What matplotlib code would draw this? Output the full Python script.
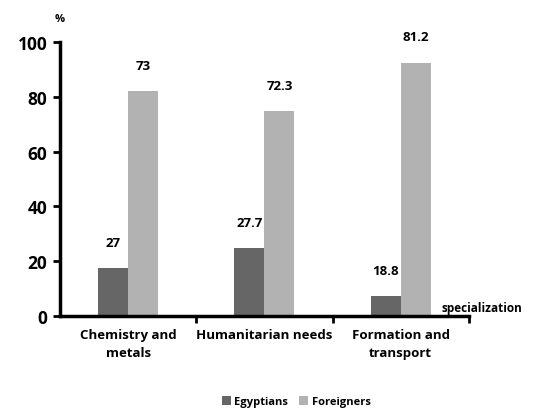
import numpy as np
import matplotlib.pyplot as plt

plt.rcParams['font.family'] = ['Open Sans', 'DejaVu Sans']
plt.rcParams['font.weight'] = 'bold'

categories = ['Chemistry and\nmetals', 'Humanitarian needs', 'Formation and\ntransport']
egyptians = [17.5, 24.8, 7.2]
foreigners = [82.0, 74.8, 92.5]
egyptians_labels = ['27', '27.7', '18.8']
foreigners_labels = ['73', '72.3', '81.2']

fig = plt.figure(figsize=(5.34, 4.10), dpi=100)
ax = fig.add_axes([0.1124, 0.2268, 0.7655, 0.6683])

x = np.arange(len(categories))
w = 0.22
b1 = ax.bar(x - w / 2, egyptians, w, color='#666666', label='Egyptians')
b2 = ax.bar(x + w / 2, foreigners, w, color='#b2b2b2', label='Foreigners')

for bars, labels in ((b1, egyptians_labels), (b2, foreigners_labels)):
    for rect, lab in zip(bars, labels):
        ax.annotate(lab, (rect.get_x() + rect.get_width() / 2, rect.get_height()),
                    xytext=(0, 14), textcoords='offset points',
                    ha='center', va='bottom', fontsize=9.5, fontweight='bold')

ax.set_xlim(-0.5, 2.5)
ax.set_ylim(0, 100)
ax.set_yticks([0, 20, 40, 60, 80, 100])
ax.tick_params(axis='y', labelsize=12.5, width=2, length=5, pad=4)

# category labels between boundary ticks
ax.set_xticks([0.5, 1.5, 2.5])
ax.set_xticklabels([])
ax.tick_params(axis='x', width=2, length=5, direction='out')
for xi, cat in zip(x, categories):
    ax.text(xi, -4.5, cat, ha='center', va='top', fontsize=9.5, fontweight='bold',
            transform=ax.transData, linespacing=1.45)

for s in ('top', 'right'):
    ax.spines[s].set_visible(False)
for s in ('left', 'bottom'):
    ax.spines[s].set_linewidth(2.5)

ax.text(0.0, 1.085, '%', transform=ax.transAxes, ha='center', va='center', fontsize=8)
ax.text(1.13, 0.03, 'specialization', transform=ax.transAxes, ha='right', va='center',
        fontsize=8.5)

fig.legend(handles=[b1, b2], loc='lower center', bbox_to_anchor=(0.555, -0.02), ncol=2,
           frameon=False, fontsize=8, handlelength=0.8, handleheight=0.8,
           handletextpad=0.3, columnspacing=1.0)

fig.savefig('out.png', dpi=100)
